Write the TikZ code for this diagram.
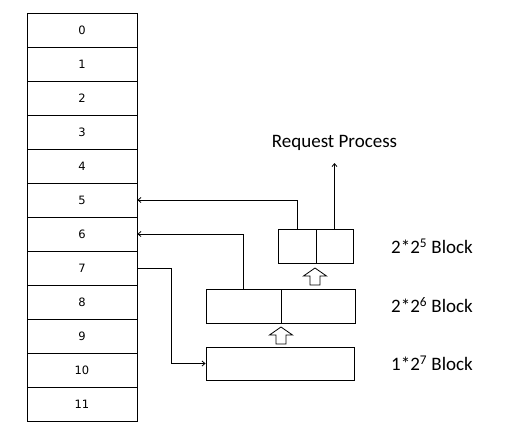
\documentclass[tikz,border=0pt]{standalone}
\usepackage{fontspec}
\setmainfont{Carlito}
\newfontfamily\cellfont{DejaVu Sans}
\usetikzlibrary{arrows.meta}

\begin{document}
\begin{tikzpicture}[x=1pt, y=-1pt,
  cell/.style={draw, line width=0.8pt, minimum width=110pt, minimum height=34pt, inner sep=0pt, font=\cellfont\fontsize{11.5}{13}\selectfont},
  block/.style={draw, line width=0.8pt, minimum height=34pt, inner sep=0pt},
  label/.style={anchor=west, inner sep=0pt, font=\fontsize{19}{22}\selectfont},
  hollow/.style={draw, line width=0.8pt, fill=white, line join=miter},
  arrow/.style={-{Straight Barb[length=3pt, width=5pt]}, line width=0.8pt}
]
\useasboundingbox (0,0) rectangle (523,440);

\node[cell] (m0) at (82,30) {0};
\node[cell] (m1) at (82,64) {1};
\node[cell] (m2) at (82,98) {2};
\node[cell] (m3) at (82,132) {3};
\node[cell] (m4) at (82,166) {4};
\node[cell] (m5) at (82,200) {5};
\node[cell] (m6) at (82,234) {6};
\node[cell] (m7) at (82,268) {7};
\node[cell] (m8) at (82,302) {8};
\node[cell] (m9) at (82,336) {9};
\node[cell] (m10) at (82,370) {10};
\node[cell] (m11) at (82,404) {11};

\node[block, minimum width=38pt] (b5a) at (297,246) {};
\node[block, minimum width=37pt] (b5b) at (334.5,246) {};
\node[block, minimum width=75pt] (b6a) at (243.5,306) {};
\node[block, minimum width=74pt] (b6b) at (318,306) {};
\node[block, minimum width=148pt, minimum height=33pt] (b7) at (280,363.5) {};

\coordinate (up1) at (315,285);
\coordinate (up2) at (281,344);
\draw[hollow] (up1) ++(-5,0) -- ++(0,-9) -- ++(-6.5,0) -- ++(11.5,-8) -- ++(11.5,8) -- ++(-6.5,0) -- ++(0,9) -- cycle;
\draw[hollow] (up2) ++(-5,0) -- ++(0,-9) -- ++(-6.5,0) -- ++(11.5,-8) -- ++(11.5,8) -- ++(-6.5,0) -- ++(0,9) -- cycle;

\node[font=\fontsize{19}{22}\selectfont, inner sep=0pt] (req) at (334.5,143) {Request Process};
\node[label] (l5) at (391,246) {2*2\textsuperscript{5} Block};
\node[label] (l6) at (391,305) {2*2\textsuperscript{6} Block};
\node[label] (l7) at (391,363) {1*2\textsuperscript{7} Block};

\coordinate (bend) at (171,268);
\coordinate (top) at (334.5,163);

\draw[arrow] (b5b.north) -- (top);
\draw[arrow] (b5a.north) |- (m5.east);
\draw[arrow] (b6a.north) |- (m6.east);
\draw[arrow] (m7.east) -- (bend) |- (b7.west);
\end{tikzpicture}
\end{document}
